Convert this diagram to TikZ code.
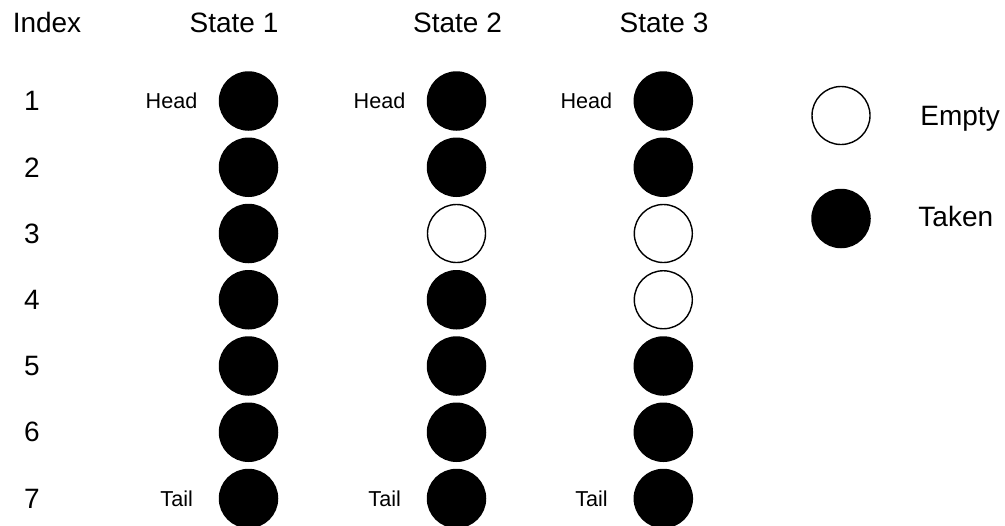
\documentclass[tikz,border=0pt]{standalone}
\usepackage{fontspec}
\setmainfont{Liberation Sans}
\usetikzlibrary{positioning}
\tikzset{
  taken/.style={circle,draw=black,fill=black,line width=0.75pt,minimum size=29pt,inner sep=0pt},
  empty/.style={circle,draw=black,fill=white,line width=0.7pt,minimum size=29pt,inner sep=0pt},
  bigtext/.style={font=\fontsize{14}{16}\selectfont,inner sep=0pt},
  smalltext/.style={font=\fontsize{10.8}{12}\selectfont,inner sep=0pt}
}
\begin{document}
\begin{tikzpicture}[x=0.5pt,y=-0.5pt]
\useasboundingbox (0,0) rectangle (1005,525);
\node[bigtext,anchor=base] (idx) at (47,32) {Index};
\node[bigtext,anchor=base] (st1) at (234,32) {State 1};
\node[bigtext,anchor=base] (st2) at (457.5,32) {State 2};
\node[bigtext,anchor=base] (st3) at (664,32) {State 3};
\foreach \r/\sa/\sb/\sc in {1/taken/taken/taken,2/taken/taken/taken,3/taken/empty/empty,
    4/taken/taken/empty,5/taken/taken/taken,6/taken/taken/taken,7/taken/taken/taken}{
  \node[bigtext] (n\r) at (32,{101+66.25*(\r-1)}) {\r};
  \node[\sa] (a\r) at (248.5,{101+66.25*(\r-1)}) {};
  \node[\sb] (b\r) at (456.5,{101+66.25*(\r-1)}) {};
  \node[\sc] (c\r) at (663.3,{101+66.25*(\r-1)}) {};
}
\node[smalltext,left=10.5pt of a1] (heada) {Head};
\node[smalltext,left=10.5pt of b1] (headb) {Head};
\node[smalltext,left=10.5pt of c1] (headc) {Head};
\node[smalltext,left=12.75pt of a7] (taila) {Tail};
\node[smalltext,left=12.75pt of b7] (tailb) {Tail};
\node[smalltext,left=12.75pt of c7] (tailc) {Tail};
\node[empty] (lgempty) at (841,115.5) {};
\node[taken] (lgtaken) at (841,218.5) {};
\node[bigtext,anchor=base west] (lbempty) at (920,125) {Empty};
\node[bigtext,anchor=base west] (lbtaken) at (918,226.7) {Taken};
\end{tikzpicture}
\end{document}
